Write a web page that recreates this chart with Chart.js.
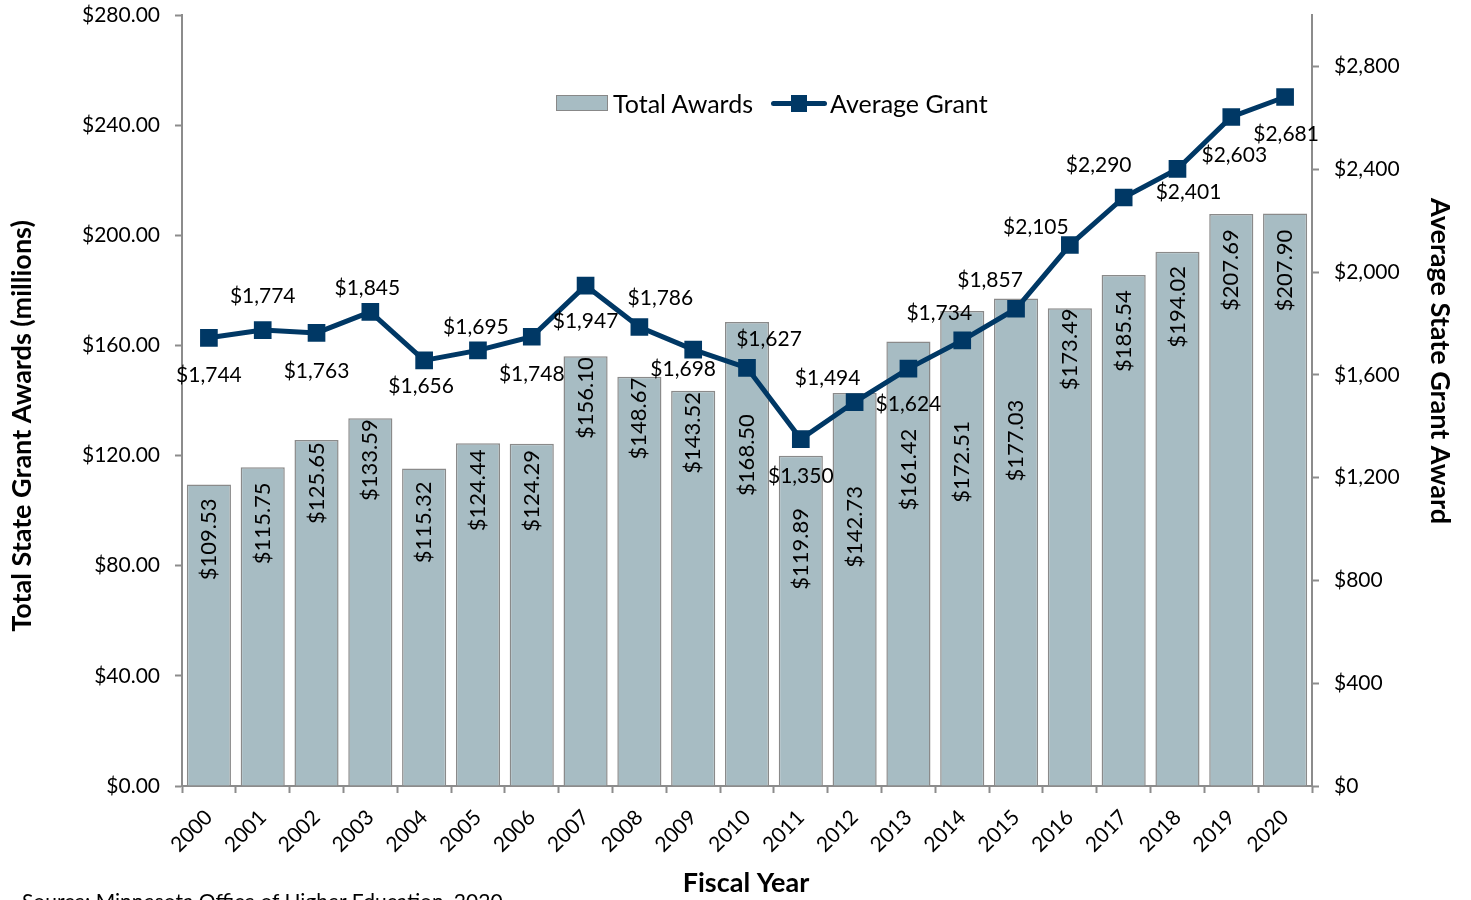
<!DOCTYPE html>
<html>
<head>
<meta charset="utf-8">
<script src="https://cdn.jsdelivr.net/npm/chart.js@4.4.0/dist/chart.umd.min.js"></script>
<style>
body { margin: 0; background: #fff; font-family: Lato, sans-serif; }
#caixa { position: relative; width: 1471px; height: 900px; overflow: hidden; }
#legenda { position: absolute; left: 556px; top: 88px; display: flex; align-items: center; font-size: 25px; color: #000; }
#legenda .barra { width: 50px; height: 14px; background: #a7bcc3; border: 1.5px solid #888; margin-right: 5px; }
#legenda .linha { position: relative; width: 56px; height: 5px; background: #003865; border-radius: 3px; margin: 0 3px 0 18px; }
#legenda .linha span { position: absolute; left: 20px; top: -6px; width: 16px; height: 17px; background: #003865; }
#fonte { position: absolute; left: 22px; top: 888px; font-size: 21px; color: #000; white-space: nowrap; }
</style>
</head>
<body>
<div id="caixa">
  <canvas id="grafico" width="1471" height="900"></canvas>
  <div id="legenda">
    <div class="barra"></div><div>Total Awards</div>
    <div class="linha"><span></span></div><div>Average Grant</div>
  </div>
  <div id="fonte">Source: Minnesota Office of Higher Education, 2020</div>
</div>
<script>
const anos = ["2000", "2001", "2002", "2003", "2004", "2005", "2006", "2007", "2008", "2009", "2010",
              "2011", "2012", "2013", "2014", "2015", "2016", "2017", "2018", "2019", "2020"];
const totais = [109.53, 115.75, 125.65, 133.59, 115.32, 124.44, 124.29, 156.10, 148.67, 143.52, 168.50,
                119.89, 142.73, 161.42, 172.51, 177.03, 173.49, 185.54, 194.02, 207.69, 207.90];
const media = [1744, 1774, 1763, 1845, 1656, 1695, 1748, 1947, 1786, 1698, 1627,
               1350, 1494, 1624, 1734, 1857, 2105, 2290, 2401, 2603, 2681];

// posicao dos rotulos (distancia do topo da barra / deslocamento em relacao ao ponto)
const deslocBarra = [55, 56, 43, 42, 54, 47, 47, 42, 42, 42, 133, 93, 134, 128, 151, 142, 41, 56, 55, 56, 57];
const deslocLinha = [[0, 37], [0, -34], [0, 38], [-3, -24], [-3, 26], [-2, -23], [0, 37], [0, 36], [21, -29],
                     [-10, 20], [22, -29], [0, 37], [-27, -24], [0, 36], [-23, -27], [-26, -29], [-34, -18],
                     [-25, -32], [11, 23], [3, 38], [1, 37]];

Chart.defaults.font.family = "Lato, sans-serif";
Chart.defaults.font.size = 21;
Chart.defaults.color = "#000";

const rotulos = {
    id: "rotulos",
    afterDatasetsDraw(chart) {
        const ctx = chart.ctx;
        ctx.save();
        ctx.fillStyle = "#000";
        ctx.textAlign = "center";
        ctx.textBaseline = "middle";

        ctx.font = "22px Lato, sans-serif";
        chart.getDatasetMeta(0).data.forEach((barra, i) => {
            ctx.save();
            ctx.translate(barra.x, barra.y + deslocBarra[i]);
            ctx.rotate(-Math.PI / 2);
            ctx.fillText("$" + totais[i].toFixed(2), 0, 0);
            ctx.restore();
        });

        ctx.font = "21px Lato, sans-serif";
        chart.getDatasetMeta(1).data.forEach((p, i) => {
            const txt = "$" + media[i].toLocaleString("en-US");
            ctx.fillText(txt, p.x + deslocLinha[i][0], p.y + deslocLinha[i][1]);
        });
        ctx.restore();
    }
};

// titulos dos eixos (posicao igual a do grafico original)
const titulos = {
    id: "titulos",
    afterDraw(chart) {
        const ctx = chart.ctx;
        ctx.save();
        ctx.font = "bold 27px Lato, sans-serif";
        ctx.fillStyle = "#000";
        ctx.textAlign = "center";
        ctx.textBaseline = "middle";

        ctx.fillText("Fiscal Year", 746, 883);

        ctx.save();
        ctx.translate(22, 426);
        ctx.rotate(-Math.PI / 2);
        ctx.fillText("Total State Grant Awards (millions)", 0, 0);
        ctx.restore();

        ctx.save();
        ctx.translate(1440, 361);
        ctx.rotate(Math.PI / 2);
        ctx.fillText("Average State Grant Award", 0, 0);
        ctx.restore();

        ctx.restore();
    }
};

const eixoCinza = {
    display: true,
    drawOnChartArea: false,
    drawTicks: true,
    tickLength: 7,
    tickWidth: 2,
    color: "#8c8c8c"
};

new Chart(document.getElementById("grafico").getContext("2d"), {
    type: "bar",
    data: {
        labels: anos,
        datasets: [{
            label: "Total Awards",
            data: totais,
            backgroundColor: "#a7bcc3",
            borderColor: "#8a8a8a",
            borderWidth: 1.5,
            barPercentage: 0.82,
            categoryPercentage: 1,
            yAxisID: "y",
            order: 2
        }, {
            type: "line",
            label: "Average Grant",
            data: media,
            borderColor: "#003865",
            backgroundColor: "#003865",
            borderWidth: 5,
            pointStyle: "rect",
            pointRadius: 12.5,
            pointBorderWidth: 0,
            tension: 0,
            yAxisID: "y1",
            order: 1
        }]
    },
    options: {
        responsive: false,
        animation: false,
        layout: { padding: { top: 15, left: 4, right: 12, bottom: 0 } },
        plugins: {
            legend: { display: false },
            tooltip: { enabled: false }
        },
        scales: {
            x: {
                grid: eixoCinza,
                border: { color: "#8c8c8c", width: 2 },
                ticks: { minRotation: 45, maxRotation: 45, autoSkip: false, padding: 12 },
                afterFit(escala) { escala.height = 114; }
            },
            y: {
                position: "left",
                min: 0,
                max: 280,
                grid: eixoCinza,
                border: { color: "#8c8c8c", width: 2 },
                ticks: { stepSize: 40, padding: 15, callback: v => "$" + v.toFixed(2) },
                afterFit(escala) { escala.width = 178; escala.paddingTop = 0; escala.paddingBottom = 0; }
            },
            y1: {
                position: "right",
                min: 0,
                max: 3000,
                grid: eixoCinza,
                border: { color: "#8c8c8c", width: 2 },
                ticks: { stepSize: 400, padding: 15, callback: v => "$" + v.toLocaleString("en-US") },
                afterBuildTicks(escala) { escala.ticks = escala.ticks.filter(t => t.value <= 2800); },
                afterFit(escala) { escala.width = 147; escala.paddingTop = 0; escala.paddingBottom = 0; }
            }
        }
    },
    plugins: [rotulos, titulos]
});
</script>
</body>
</html>
